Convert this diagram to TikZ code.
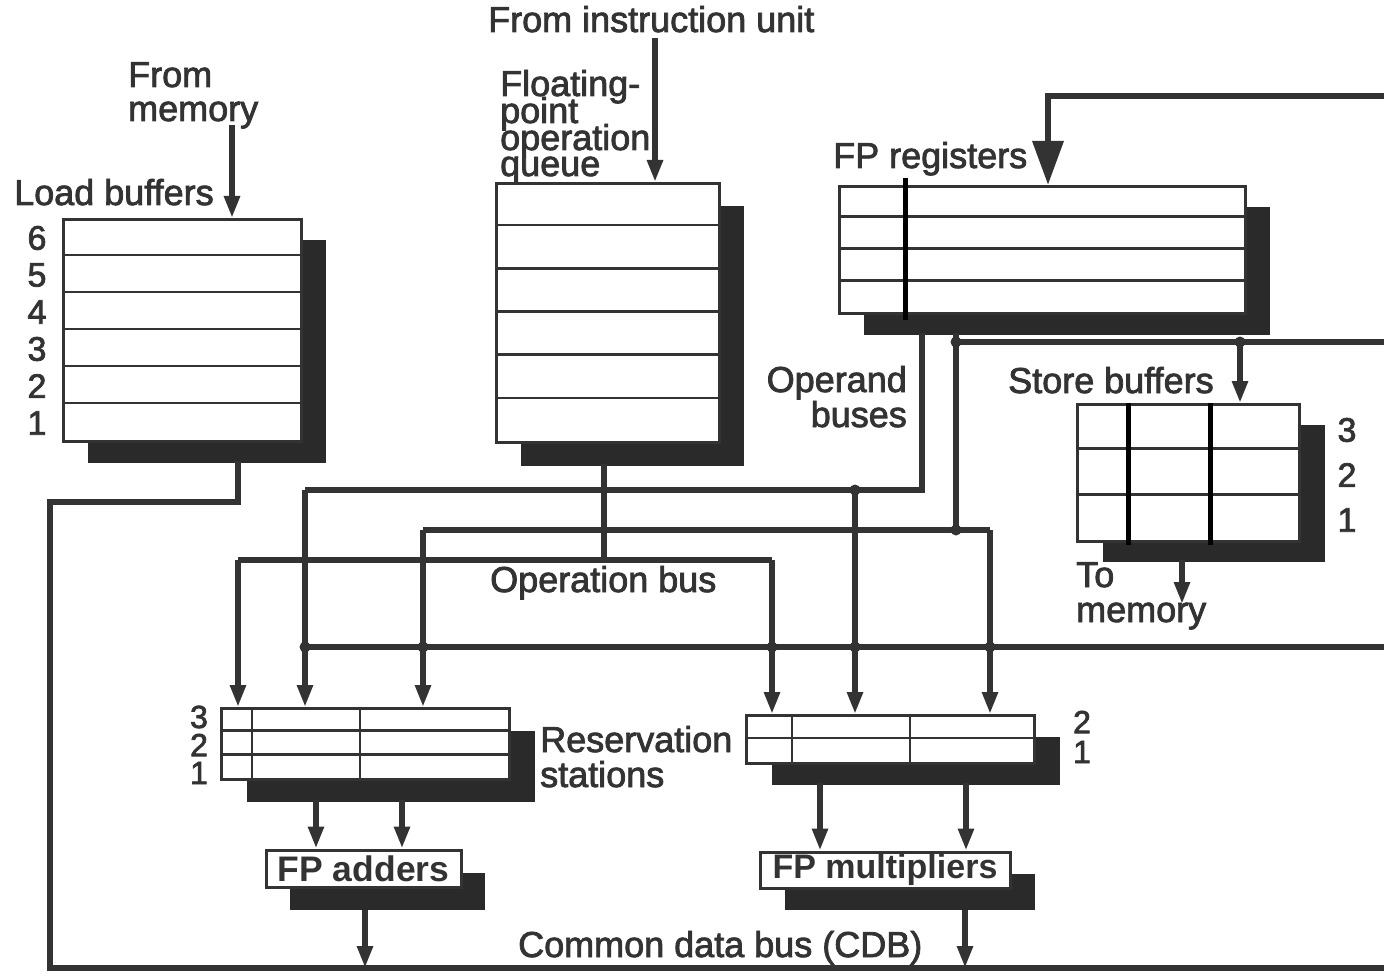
\documentclass[tikz,border=0pt]{standalone}
\usepackage{fontspec}
\setmainfont{Liberation Sans}[FakeBold=2.2]
\newfontfamily\unitfont{Liberation Sans Bold}
\usetikzlibrary{shadows,arrows.meta}
\definecolor{ink}{HTML}{333333}
\definecolor{shade}{HTML}{2A2A2A}
\begin{document}
\begin{tikzpicture}[x=1pt,y=-1pt,
  lbl/.style={font=\fontsize{36}{36}\selectfont, text=ink, inner sep=0pt, anchor=base west},
  num/.style={font=\fontsize{34}{34}\selectfont, text=ink, inner sep=0pt},
  box/.style={draw=ink, line width=3pt, fill=white, inner sep=0pt, anchor=north west},
  shd/.style n args={2}{general shadow={fill=shade, shadow xshift=#1pt, shadow yshift=-#2pt}},
  row/.style={draw=ink, line width=2.8pt},
  bar/.style={draw=black, line width=5pt},
  bus/.style={draw=ink, line width=5.6pt},
  arr/.style={bus, -{Triangle[length=22pt,width=15pt]}},
  dot/.style={circle, fill=ink, inner sep=0pt, minimum size=11pt},
  unit/.style={box, anchor=center, text=ink},
]
\useasboundingbox (0,0) rectangle (1384,976);
\fill[white] (0,0) rectangle (1384,976);

% ---------- boxes ----------
\node[box, shd={24}{21}, minimum width=238pt, minimum height=222pt] (lb) at (62,218) {};
\node[box, shd={24}{23}, minimum width=223pt, minimum height=259pt] (q) at (495,182) {};
\node[box, shd={24}{21}, minimum width=406pt, minimum height=127pt] (fpr) at (838,185) {};
\node[box, shd={25}{20}, minimum width=222pt, minimum height=137pt] (sb) at (1076,403) {};
\node[box, shd={25}{22}, minimum width=288pt, minimum height=71pt] (rsa) at (220,707) {};
\node[box, shd={25}{21}, minimum width=288pt, minimum height=48pt] (rsm) at (745,714) {};
\node[unit, shd={24}{23}, minimum width=195pt, minimum height=37pt, font=\unitfont\fontsize{35.5}{35}\selectfont] (fpa) at (363.5,868.5) {FP adders};
\node[unit, shd={25}{22}, minimum width=250pt, minimum height=36pt, font=\unitfont\fontsize{34}{34}\selectfont] (fpm) at (885,870) {FP multipliers};

% rows / columns
\foreach \y in {255,292,329,366,403} \draw[row] (62,\y) -- (300,\y);
\foreach \y in {225,268.3,311.5,354.7,398} \draw[row] (495,\y) -- (718,\y);
\foreach \y in {216.75,248.5,280.25} \draw[row] (838,\y) -- (1244,\y);
\foreach \y in {448.7,494.3} \draw[row] (1076,\y) -- (1298,\y);
\foreach \y in {730.7,754.3} \draw[row] (220,\y) -- (508,\y);
\foreach \x in {252,360} \draw[row] (\x,707) -- (\x,778);
\draw[row] (745,738) -- (1033,738);
\foreach \x in {792,910} \draw[row] (\x,714) -- (\x,762);
\draw[bar] (905,178) -- (905,320);
\draw[bar] (1128,403) -- (1128,545);
\draw[bar] (1210,403) -- (1210,545);

% ---------- labels ----------
\node[lbl] (fiu) at (488,32) {From instruction unit};
\node[lbl] (fm1) at (128,87) {From};
\node[lbl] (fm2) at (128,121) {memory};
\node[lbl] (lbt) at (14,205) {Load buffers};
\foreach \n/\y in {6/238,5/275,4/312,3/349,2/386,1/423} \node[num] (lbn\n) at (37,\y) {\n};
\node[lbl] (fq1) at (500,96) {Floating-};
\node[lbl] (fq2) at (500,123) {point};
\node[lbl] (fq3) at (500,150) {operation};
\node[lbl] (fq4) at (500,176) {queue};
\node[lbl] (fprt) at (833,168) {FP registers};
\node[lbl, anchor=base east] (ob1) at (907,392) {Operand};
\node[lbl, anchor=base east] (ob2) at (907,427) {buses};
\node[lbl] (sbt) at (1008,393) {Store buffers};
\foreach \n/\y in {3/430,2/475,1/520} \node[num] (sbn\n) at (1347,\y) {\n};
\node[lbl] (tm1) at (1076,587) {To};
\node[lbl] (tm2) at (1076,622) {memory};
\node[lbl] (opb) at (490,592) {Operation bus};
\node[lbl] (rs1) at (540,752) {Reservation};
\node[lbl] (rs2) at (540,787) {stations};
\foreach \n/\y in {3/717,2/745,1/773} \node[num, font=\fontsize{32}{32}\selectfont] (ran\n) at (199,\y) {\n};
\foreach \n/\y in {2/722,1/752} \node[num, font=\fontsize{32}{32}\selectfont] (rmn\n) at (1082,\y) {\n};
\node[lbl] (cdbt) at (518,957) {Common data bus (CDB)};

% ---------- bus coordinates ----------
\coordinate (mem) at (232,125);
\coordinate (iu) at (655,38);
\coordinate (lbo) at (238,461);
\coordinate (lbc) at (238,502);
\coordinate (cdbl) at (50,502);
\coordinate (cdbbl) at (50,968);
\coordinate (cdbbr) at (1384,968);
\coordinate (qo) at (604,464);
\coordinate (qj) at (604,560);
\coordinate (opl) at (238,560);
\coordinate (opr) at (772,560);
\coordinate (oaT) at (922,333);
\coordinate (oaC) at (922,490);
\coordinate (oaL) at (305,490);
\coordinate (oaJ) at (855,490);
\coordinate (obT) at (956,333);
\coordinate (obJ) at (956,530);
\coordinate (obL) at (423,530);
\coordinate (obR) at (990,530);
\coordinate (stJ) at (956,342);
\coordinate (stR) at (1384,342);
\coordinate (stA) at (1240,342);
\coordinate (cdbL) at (305,647);
\coordinate (cdbR) at (1384,647);
\coordinate (topR) at (1384,96);
\coordinate (topC) at (1048,96);
\coordinate (sbo) at (1182,560);
\coordinate (sbm) at (1182,604);

% ---------- connectors ----------
\draw[arr] (mem) -- (mem |- lb.north);
\draw[arr] (iu) -- (iu |- q.north);
\draw[arr] (sbo) -- (sbm);
\draw[bus] (lbo) -- (lbc) -- (cdbl) -- (cdbbl) -- (cdbbr);
\draw[bus] (qo) -- (qj);
\draw[bus] (opl) -- (opr);
\draw[arr] (opl) -- (opl |- rsa.north);
\draw[arr] (opr) -- (opr |- rsm.north);
\draw[bus] (oaT) -- (oaC) -- (oaL);
\draw[arr] (oaL) -- (oaL |- rsa.north);
\draw[arr] (oaJ) -- (oaJ |- rsm.north);
\draw[bus] (obT) -- (obJ);
\draw[bus] (obL) -- (obR);
\draw[arr] (obL) -- (obL |- rsa.north);
\draw[arr] (obR) -- (obR |- rsm.north);
\draw[bus] (stJ) -- (stR);
\draw[arr] (stA) -- (stA |- sb.north);
\draw[bus] (cdbL) -- (cdbR);
\draw[bus, line width=6.5pt, -{Triangle[length=44pt,width=30pt]}] (topR) -- (topC) -- (topC |- fpr.north);
\coordinate (ra1) at (316,800);
\coordinate (ra2) at (402,800);
\coordinate (rm1) at (820,783);
\coordinate (rm2) at (966,783);
\coordinate (fao) at (365,910);
\coordinate (fmo) at (965,910);
\draw[arr] (ra1) -- (ra1 |- fpa.north);
\draw[arr] (ra2) -- (ra2 |- fpa.north);
\draw[arr] (rm1) -- (rm1 |- fpm.north);
\draw[arr] (rm2) -- (rm2 |- fpm.north);
\draw[arr] (fao) -- (fao |- cdbbl);
\draw[arr] (fmo) -- (fmo |- cdbbl);

% junction dots
\foreach \p in {oaJ,obJ,stJ,stA} \node[dot] at (\p) {};
\foreach \x in {305,423,772,855,990} \node[dot] at (\x,647) {};
\end{tikzpicture}
\end{document}
